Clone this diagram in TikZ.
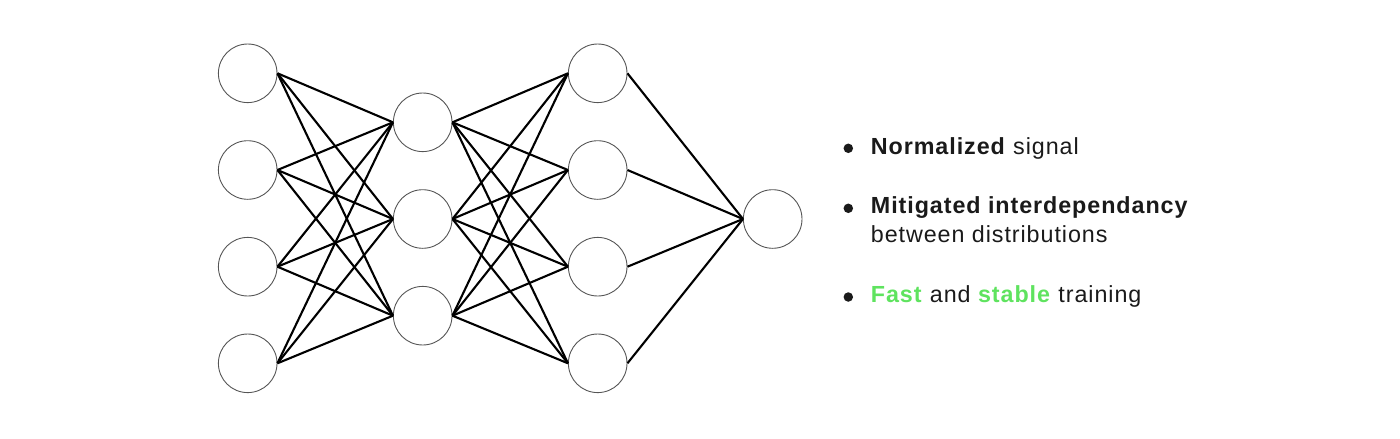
\documentclass[tikz,border=0pt]{standalone}
\usepackage{fontspec}
\setmainfont{Liberation Sans}[LetterSpace=4]
\definecolor{txt}{HTML}{1A1A1A}
\definecolor{hl}{HTML}{5FE35F}
\definecolor{ring}{HTML}{555555}
\begin{document}
\begin{tikzpicture}[x=1pt,y=-1pt,
  neuron/.style={circle,draw=ring,line width=0.9pt,minimum size=58.6pt,inner sep=0pt},
  link/.style={draw=black,line width=2.1pt},
  item/.style={anchor=base west,inner sep=0pt,text=txt,font=\fontsize{23.3}{29}\selectfont},
  dot/.style={circle,fill=txt,minimum size=9.5pt,inner sep=0pt}]
\useasboundingbox (0,0) rectangle (1400,439);
% layer 1
\node[neuron] (a1) at (247.7,73.3) {};
\node[neuron] (a2) at (247.7,170) {};
\node[neuron] (a3) at (247.7,266.7) {};
\node[neuron] (a4) at (247.7,363.3) {};
% layer 2
\node[neuron] (b1) at (422.7,122.3) {};
\node[neuron] (b2) at (422.7,219) {};
\node[neuron] (b3) at (422.7,315.7) {};
% layer 3
\node[neuron] (c1) at (597.7,73.3) {};
\node[neuron] (c2) at (597.7,170) {};
\node[neuron] (c3) at (597.7,266.7) {};
\node[neuron] (c4) at (597.7,363.3) {};
% output
\node[neuron] (d1) at (772.7,219) {};
% links
\foreach \i in {1,2,3,4}{\foreach \j in {1,2,3}{\draw[link] (a\i.east) -- (b\j.west);}}
\foreach \i in {1,2,3}{\foreach \j in {1,2,3,4}{\draw[link] (b\i.east) -- (c\j.west);}}
\foreach \i in {1,2,3,4}{\draw[link] (c\i.east) -- (d1.west);}
% text
\node[dot] (p1) at (848.3,148.3) {};
\node[dot] (p2) at (848.3,208.3) {};
\node[dot] (p3) at (848.3,297) {};
\node[item] (t1) at (870.7,154.3) {\textbf{Normalized} signal};
\node[item] (t2) at (870.7,213.3) {\textbf{Mitigated interdependancy}};
\node[item] (t2b) at (870.7,242.7) {between distributions};
\node[item] (t3) at (870.7,302.7) {\textcolor{hl}{\textbf{Fast}} and \textcolor{hl}{\textbf{stable}} training};
\end{tikzpicture}
\end{document}
